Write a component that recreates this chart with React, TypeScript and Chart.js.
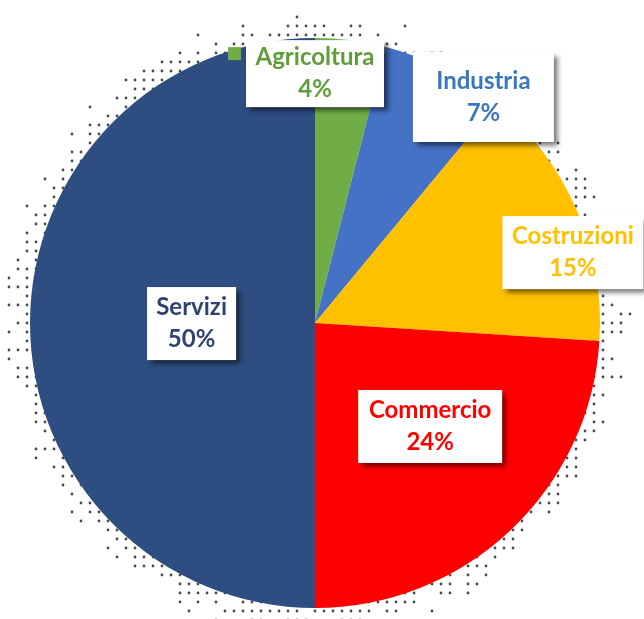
import React, { useEffect, useRef } from "react";
import { Chart, registerables } from "chart.js";

Chart.register(...registerables);

const categories = ["Agricoltura", "Industria", "Costruzioni", "Commercio", "Servizi"];
const values = [4, 7, 15, 24, 50];
const sliceColors = ["#70AD47", "#4472C4", "#FFC000", "#FF0000", "#2E4D80"];
const textColors = ["#5E9E3A", "#3A78BE", "#FFC000", "#FF0000", "#2E4470"];
// label box centres relative to pie centre, in units of radius
const labelRelX = [0, 0.591, 0.905, 0.404, -0.433];
const labelRelY = [-0.875, -0.793, -0.247, 0.363, 0.002];
const labelBoxW = [138, 141, 141, 144, 89];
const labelBoxH = [67, 90, 73, 73, 73];

function hash(i: number, j: number) {
  let h = (i * 374761393 + j * 668265263) | 0;
  h = (h ^ (h >>> 13)) * 1274126177;
  h = h ^ (h >>> 16);
  return ((h >>> 0) % 1000) / 1000;
}

const dotsPlugin = {
  id: "dots",
  beforeDatasetsDraw(chart: any) {
    const arc = chart.getDatasetMeta(0).data[0];
    if (!arc) return;
    const { x, y, outerRadius } = arc.getProps(["x", "y", "outerRadius"], true);
    const ctx = chart.ctx;
    ctx.save();
    ctx.fillStyle = "#4a4a4a";
    const step = 9;
    const spread = 34;
    for (let gx = -40; gx <= 40; gx++) {
      for (let gy = -40; gy <= 40; gy++) {
        const px = x + gx * step;
        const py = y + gy * step;
        const d = Math.hypot(px - x, py - y);
        if (d < outerRadius - 10 || d > outerRadius + spread) continue;
        const t = (d - outerRadius) / spread;
        const p = 1 - t * 1.1;
        if (hash(gx, gy) < p) {
          ctx.beginPath();
          ctx.arc(px, py, 1.4, 0, Math.PI * 2);
          ctx.fill();
        }
      }
    }
    ctx.restore();
  },
};

const labelPlugin = {
  id: "boxLabels",
  afterDatasetsDraw(chart: any) {
    const meta = chart.getDatasetMeta(0);
    const arc0 = meta.data[0];
    if (!arc0) return;
    const { x, y, outerRadius } = arc0.getProps(["x", "y", "outerRadius"], true);
    const ctx = chart.ctx;
    const total = values.reduce((a, b) => a + b, 0);
    ctx.save();
    ctx.font = "bold 24px Lato";
    ctx.textAlign = "center";
    ctx.textBaseline = "middle";
    categories.forEach((cat, i) => {
      const pct = Math.round((values[i] / total) * 100) + "%";
      const cx = x + labelRelX[i] * outerRadius;
      const cy = y + labelRelY[i] * outerRadius;
      const w = labelBoxW[i];
      const h = labelBoxH[i];
      ctx.save();
      ctx.shadowColor = "rgba(0,0,0,0.55)";
      ctx.shadowBlur = 5;
      ctx.shadowOffsetX = 4;
      ctx.shadowOffsetY = 4;
      ctx.fillStyle = "#ffffff";
      ctx.fillRect(cx - w / 2, cy - h / 2, w, h);
      ctx.restore();
      ctx.fillStyle = textColors[i];
      ctx.fillText(cat, cx, cy - 16);
      ctx.fillText(pct, cx, cy + 16);
      if (i === 0) {
        ctx.fillStyle = sliceColors[0];
        ctx.fillRect(cx - w / 2 - 18, cy - h / 2 + 7, 13, 13);
      }
    });
    ctx.restore();
  },
};

export default function App() {
  const ref = useRef<HTMLCanvasElement | null>(null);
  useEffect(() => {
    if (!ref.current) return;
    const chart = new Chart(ref.current, {
      type: "pie",
      data: {
        labels: categories,
        datasets: [
          {
            data: values,
            backgroundColor: sliceColors,
            borderWidth: 0,
          },
        ],
      },
      options: {
        animation: false,
        responsive: true,
        maintainAspectRatio: false,
        layout: { padding: { left: 30, right: 44, top: 38, bottom: 11 } },
        plugins: {
          legend: { display: false },
          tooltip: { enabled: false },
        },
      },
      plugins: [dotsPlugin, labelPlugin],
    });
    return () => chart.destroy();
  }, []);
  return (
    <div style={{ position: "absolute", left: 0, top: 0, width: 644, height: 619, background: "#fff" }}>
      <canvas ref={ref} />
    </div>
  );
}
